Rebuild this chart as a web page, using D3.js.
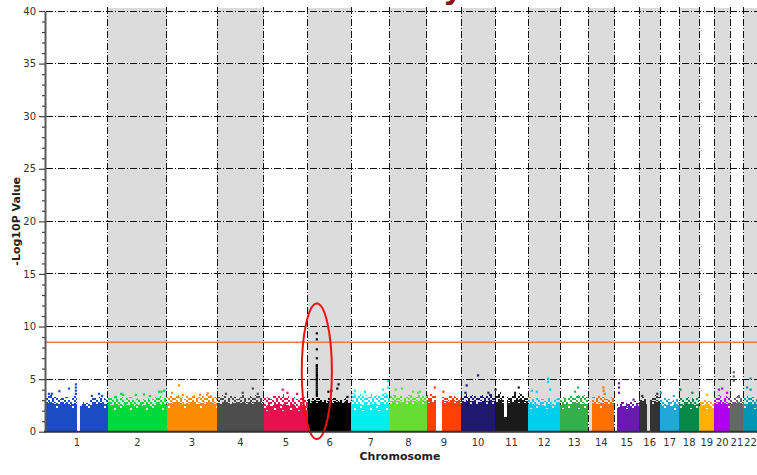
<!DOCTYPE html>
<html>
<head>
<meta charset="utf-8">
<script src="https://cdn.jsdelivr.net/npm/d3@7/dist/d3.min.js"></script>
<style>
  html, body { margin: 0; padding: 0; background: #fff; overflow: hidden; }
  svg { display: block; }
</style>
</head>
<body>
<svg id="chart" width="757" height="475"></svg>
<script>
// Genome-wide association scan: -log10(p) per SNP along chromosomes 1-22.

const chromosomes = ["1","2","3","4","5","6","7","8","9","10","11","12","13","14","15","16","17","18","19","20","21","22"];

// Plotted span of each chromosome (Mb)
const chromLengthMb = [251,239,203,190,178,176,156,150,138,138,134,130,114,105,101,85,77,81,61,65,53,57];

const chromColors = [
  "#1b4cc6","#00d93a","#f98c00","#4d4d4d","#e8114f","#000000","#00eeee","#66dd33",
  "#ff4000","#1f1770","#1a1a1a","#00ccee","#33b04a","#ff7000","#6a1ab0","#333333",
  "#1fa8d8","#078a48","#ffb000","#b000f0","#666666","#0096b4"
];

// Level below which nearly every SNP bin is filled
const solidLevel = [2.3,2.1,2.3,2.4,2.0,2.7,2.0,2.6,2.7,2.6,2.7,2.2,2.2,2.3,2.2,2.6,2.1,2.2,2.2,2.3,2.4,2.2];

// Upper edge of the dense SNP cloud, in equal steps along each chromosome (0 = no markers)
const upperEdge = [
  [3.4,3.5,3.3,3.3,3.1,3.2,3.3,3.0,3.2,3.4,0,2.6,2.8,2.7,3.0,3.2,3.1,3.3,3.2,3.1],
  [3.3,3.2,3.4,3.1,3.3,3.0,3.2,3.3,3.0,3.1,3.2,2.9,3.1,3.2,3.0,3.1,3.3,3.4,3.2,3.3],
  [3.3,3.4,3.2,3.5,3.3,3.1,3.4,3.3,3.5,3.2,3.3,3.4,3.6,3.5,3.4,3.3],
  [3.3,3.5,3.4,3.2,3.4,3.3,3.1,3.3,3.5,3.2,3.4,3.3,3.5,3.4,3.2],
  [3.2,3.3,3.1,3.4,3.5,3.3,3.6,3.4,3.2,3.3,3.1,3.2,3.3,3.0],
  [3.1,3.2,3.2,3.3,3.1,3.0,3.2,3.1,3.3,3.2,3.0,3.1,3.2,3.0],
  [3.7,3.5,3.6,3.4,3.5,3.3,3.6,3.5,3.4,3.6,3.7,3.5],
  [3.4,3.5,3.3,3.4,3.2,3.3,3.5,3.4,3.3,3.5,3.6,3.4],
  [3.5,3.6,3.4,0,0,3.3,3.2,3.4,3.5,3.3,3.2],
  [3.4,3.6,3.3,3.5,3.4,3.2,3.5,3.3,3.4,3.6,3.3],
  [3.6,3.8,3.5,1.4,3.3,3.4,3.6,3.5,3.7,3.4,3.3],
  [3.3,3.1,3.2,3.0,3.1,2.9,3.2,3.0,3.1,3.3],
  [3.1,3.3,3.2,3.4,3.3,3.5,3.4,3.5,3.3],
  [0,3.3,3.2,3.4,3.3,3.1,3.2,3.3],
  [0,2.6,2.8,2.7,2.6,2.8,2.9,2.7],
  [3.2,3.3,3.1,0,3.2,3.4,3.5,3.3],
  [3.0,3.2,3.1,2.9,3.2,3.1],
  [3.2,3.0,3.3,3.2,3.1,3.3],
  [2.8,3.0,3.2,2.9,2.8],
  [3.3,3.5,3.2,3.4,3.3],
  [3.0,3.3,3.5,3.2],
  [3.2,3.4,3.3,3.1]
];

// Individual SNPs standing above the cloud: [position within chromosome (Mb), -log10 P]
const topHits = [
  [[12,3.6],[24,3.6],[54,3.85],[93,4.1],[121,4.5],[121,4.2],[121,3.9],[121,3.6],[186,3.4],[215,3.6],[227,3.4]],
  [[32,3.3],[54,3.6],[62,3.5],[113,3.5],[146,3.55],[170,3.4],[207,3.8],[217,3.8],[228,3.9]],
  [[21,3.7],[49,4.4],[64,3.5],[134,3.5],[165,3.65]],
  [[36,3.6],[104,3.7],[145,4.1],[165,3.6]],
  [[76,4.0],[95,3.7],[134,3.6]],
  [[36,9.35],[36,8.78],[36,7.83],[36,6.98],[36,6.34],[36,6.2],[36,6.0],[36,5.8],[36,5.6],[36,5.4],
   [36,5.2],[36,5.0],[36,4.8],[36,4.6],[36,4.4],[36,4.2],[36,4.0],[36,3.8],[36,3.6],[36,3.4],
   [83,3.8],[95,3.9],[119,4.1],[124,4.5],[160,3.3]],
  [[14,3.9],[55,3.8],[128,4.0],[149,4.2],[149,4.8]],
  [[24,4.0],[49,4.1],[94,3.8],[114,3.7],[122,3.8]],
  [[32,4.2],[67,3.8]],
  [[18,3.7],[23,4.4],[69,5.35],[111,3.7]],
  [[2,4.0],[81,3.7],[96,4.2]],
  [[15,3.9],[35,3.8],[81,4.75],[81,5.05],[89,4.0]],
  [[60,3.8],[72,4.2]],
  [[61,4.2],[62,3.9],[66,3.6]],
  [[19,3.7],[19,4.2],[19,4.6],[78,3.05]],
  [[12,3.4],[73,3.6]],
  [[3,3.7],[55,3.4]],
  [[5,4.0],[53,3.7]],
  [[32,3.5]],
  [[19,4.0],[32,4.1],[52,3.7]],
  [[14,4.85],[14,5.25],[14,5.65]],
  [[15,4.2],[29,4.0],[29,5.05]]
];

const yTicks = [0,5,10,15,20,25,30,35,40];
const significanceLine = 8.5;
// Circled signal on chromosome 6
const highlight = { chrom: "6", posMb: 36, low: -0.7, high: 12.2, halfWidthMb: 61 };

const yLabel = "-Log10P Value";
const xLabel = "Chromosome";

// ---- layout ----
const svg = d3.select("#chart");
const font = "'DejaVu Sans', Verdana, sans-serif";

const offsets = d3.cumsum([0].concat(chromLengthMb.slice(0, -1)));
const genomeMb = d3.sum(chromLengthMb);

const x = d3.scaleLinear().domain([0, genomeMb]).range([46, 757.5]);
const y = d3.scaleLinear().domain([0, 40]).range([431.7, 11]);

const chromData = chromosomes.map((name, i) => ({
  name, i,
  start: offsets[i],
  len: chromLengthMb[i],
  color: chromColors[i],
  solid: solidLevel[i],
  edge: upperEdge[i],
  hits: topHits[i]
}));

// ---- speckle textures for the SNP cloud ----
const denseMask = [
  "11110111",
  "10111111",
  "11111011",
  "11011110",
  "01111111",
  "11101101",
  "11111111"
];
const sparseMask = [
  "10110010",
  "01001101",
  "11010100",
  "00101011",
  "10100100",
  "01010011",
  "01101010"
];
const cell = 2;
const defs = svg.append("defs");
function makePattern(id, mask, color) {
  const p = defs.append("pattern")
    .attr("id", id)
    .attr("patternUnits", "userSpaceOnUse")
    .attr("x", 0).attr("y", 0)
    .attr("width", mask[0].length * cell)
    .attr("height", mask.length * cell);
  mask.forEach((row, r) => {
    row.split("").forEach((c, k) => {
      if (c === "1") {
        p.append("rect")
          .attr("x", k * cell).attr("y", r * cell)
          .attr("width", cell).attr("height", cell)
          .attr("fill", color);
      }
    });
  });
}
chromData.forEach(d => {
  makePattern("dense" + d.i, denseMask, d.color);
  makePattern("sparse" + d.i, sparseMask, d.color);
});

// ---- alternating chromosome bands ----
const bandTop = 8;
svg.append("g").selectAll("rect")
  .data(chromData.filter(d => d.i % 2 === 1))
  .join("rect")
  .attr("x", d => x(d.start))
  .attr("y", bandTop)
  .attr("width", d => x(d.start + d.len) - x(d.start))
  .attr("height", y(0) - bandTop)
  .attr("fill", "#dcdcdc");

// ---- dash-dot grid ----
const grid = svg.append("g")
  .attr("stroke", "#111")
  .attr("stroke-width", 1)
  .attr("stroke-dasharray", "7,2,1,2")
  .attr("shape-rendering", "crispEdges");

grid.selectAll("line.h")
  .data(yTicks.filter(t => t > 0))
  .join("line")
  .attr("class", "h")
  .attr("x1", x(0)).attr("x2", x(genomeMb))
  .attr("y1", d => y(d)).attr("y2", d => y(d));

grid.selectAll("line.v")
  .data(chromData.slice(1))
  .join("line")
  .attr("class", "v")
  .attr("x1", d => x(d.start)).attr("x2", d => x(d.start))
  .attr("y1", bandTop - 1).attr("y2", y(0));

// ---- SNP cloud ----
const cloud = svg.append("g").attr("shape-rendering", "crispEdges");
chromData.forEach(d => {
  const n = d.edge.length;
  const step = d.len / n;
  const g = cloud.append("g");
  d.edge.forEach((top, k) => {
    if (top <= 0) return;
    const x0 = x(d.start + k * step);
    const x1 = x(d.start + (k + 1) * step);
    const s = Math.min(d.solid, top);
    const m = s + (top - s) * 0.4;
    g.append("rect")
      .attr("x", x0).attr("width", x1 - x0)
      .attr("y", y(s)).attr("height", y(0) - y(s))
      .attr("fill", d.color);
    g.append("rect")
      .attr("x", x0).attr("width", x1 - x0)
      .attr("y", y(m)).attr("height", y(s) - y(m))
      .attr("fill", `url(#dense${d.i})`);
    g.append("rect")
      .attr("x", x0).attr("width", x1 - x0)
      .attr("y", y(top)).attr("height", y(m) - y(top))
      .attr("fill", `url(#sparse${d.i})`);
  });
});

// ---- individual SNPs ----
const dot = 2.2;
svg.append("g").selectAll("g")
  .data(chromData)
  .join("g")
  .attr("fill", d => d.color)
  .selectAll("rect")
  .data(d => d.hits.map(h => ({ pos: d.start + h[0], v: h[1] })))
  .join("rect")
  .attr("x", p => x(p.pos) - dot / 2)
  .attr("y", p => y(p.v) - dot / 2)
  .attr("width", dot)
  .attr("height", dot);

// ---- genome-wide significance line ----
svg.append("line")
  .attr("x1", x(0)).attr("x2", x(genomeMb))
  .attr("y1", y(significanceLine)).attr("y2", y(significanceLine))
  .attr("stroke", "#f4764f")
  .attr("stroke-width", 1.4);

// ---- highlight ellipse ----
const hc = chromData.find(d => d.name === highlight.chrom);
const hx = x(hc.start + highlight.posMb);
svg.append("ellipse")
  .attr("cx", hx)
  .attr("cy", (y(highlight.low) + y(highlight.high)) / 2)
  .attr("rx", x(highlight.halfWidthMb) - x(0))
  .attr("ry", (y(highlight.low) - y(highlight.high)) / 2)
  .attr("fill", "none")
  .attr("stroke", "#ee1111")
  .attr("stroke-width", 2);

// ---- axes ----
const yAxis = svg.append("g")
  .attr("transform", `translate(${x(0) - 1},0)`)
  .call(d3.axisLeft(y).tickValues(yTicks).tickSize(6).tickSizeOuter(0).tickPadding(3));
yAxis.select(".domain").attr("stroke", "#5a5a5a").attr("stroke-width", 2);
yAxis.selectAll(".tick line").attr("stroke", "#444").attr("stroke-width", 1.2);
yAxis.selectAll(".tick text")
  .attr("font-family", font).attr("font-size", 10).attr("fill", "#333");

const minor = svg.append("g")
  .attr("transform", `translate(${x(0) - 1},0)`)
  .call(d3.axisLeft(y).tickValues(d3.range(0, 41).filter(v => v % 5 !== 0)).tickSize(3).tickFormat(""));
minor.select(".domain").remove();
minor.selectAll(".tick line").attr("stroke", "#444").attr("stroke-width", 1.2);

// chromosome axis along the bottom
svg.append("line")
  .attr("x1", x(0) - 2).attr("x2", 757)
  .attr("y1", y(0)).attr("y2", y(0))
  .attr("stroke", "#333").attr("stroke-width", 2);

svg.append("g").selectAll("text")
  .data(chromData)
  .join("text")
  .attr("x", d => x(d.start + d.len / 2))
  .attr("y", 446)
  .attr("text-anchor", "middle")
  .attr("font-family", font)
  .attr("font-size", 10)
  .attr("fill", "#333")
  .text(d => d.name);

svg.append("text")
  .attr("x", 400).attr("y", 460)
  .attr("text-anchor", "middle")
  .attr("font-family", font)
  .attr("font-weight", "bold")
  .attr("font-size", 11)
  .attr("fill", "#222")
  .text(xLabel);

svg.append("text")
  .attr("transform", `translate(20,${(y(0) + y(40)) / 2}) rotate(-90)`)
  .attr("text-anchor", "middle")
  .attr("font-family", font)
  .attr("font-weight", "bold")
  .attr("font-size", 11)
  .attr("fill", "#222")
  .text(yLabel);

// heading sits above the frame; only the tail of its last letter shows
svg.append("text")
  .attr("x", 443).attr("y", -1)
  .attr("font-family", font)
  .attr("font-weight", "bold")
  .attr("font-size", 30)
  .attr("fill", "#8b1414")
  .text("y");
</script>
</body>
</html>
